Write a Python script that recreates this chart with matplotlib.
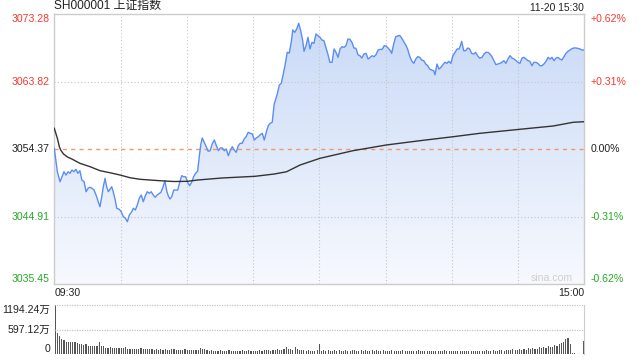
import numpy as np
import matplotlib
matplotlib.use('Agg')
import matplotlib.pyplot as plt
from matplotlib.colors import LinearSegmentedColormap
from matplotlib.transforms import blended_transform_factory

plt.rcParams['font.family'] = ['Liberation Sans', 'Noto Sans CJK SC']

title = 'SH000001 上证指数'
stamp = '11-20 15:30'
base = 3054.37
levels = [3073.28, 3063.82, 3054.37, 3044.91, 3035.45]
vol_levels = [1194.24, 597.12, 0]
vol_labels = ['1194.24万', '597.12万', '0']

# minutes after 09:30 (trading minutes, lunch break removed)
t_price = [0.0, 1.4, 2.6, 3.5, 4.4, 5.3, 6.3, 7.1, 8.0, 8.9, 9.8, 10.7, 11.6, 12.5, 13.5,
           14.4, 15.3, 16.2, 17.1, 18.0, 19.2, 19.9, 20.7, 21.5, 22.2, 23.0, 23.7, 24.5,
           25.2, 26.0, 26.7, 27.6, 28.3, 29.4, 30.3, 31.3, 32.2, 33.1, 34.0, 35.1, 35.8,
           36.7, 37.6, 38.5, 39.4, 40.3, 41.2, 42.1, 43.0, 43.9, 44.8, 45.7, 46.6, 48.3,
           49.2, 50.1, 50.9, 51.6, 52.4, 53.2, 54.1, 55.0, 55.9, 56.8, 57.7, 58.6, 59.5,
           60.4, 61.3, 62.2, 63.1, 64.0, 64.9, 65.8, 66.4, 67.0, 67.9, 68.8, 69.7, 70.6,
           71.5, 72.5, 73.4, 74.3, 75.2, 76.1, 77.0, 77.9, 78.8, 79.7, 80.6, 81.5, 82.4,
           83.3, 84.2, 85.1, 86.0, 86.9, 87.8, 88.8, 89.7, 90.6, 91.5, 92.4, 93.3, 94.2,
           95.1, 96.0, 96.9, 97.8, 98.7, 99.6, 101.0, 101.9, 102.8, 103.7, 104.6, 105.5,
           106.4, 107.3, 108.0, 108.9, 109.8, 110.7, 111.6, 112.5, 113.1, 114.0, 114.9,
           115.8, 116.7, 117.6, 118.5, 119.4, 120.3, 121.2, 122.1, 123.0, 123.9, 124.8,
           125.8, 126.7, 127.6, 128.5, 129.4, 130.3, 131.2, 132.1, 133.0, 133.9, 134.8,
           135.7, 136.6, 137.5, 138.4, 139.3, 140.2, 141.2, 142.1, 143.0, 143.9, 144.8,
           145.7, 146.6, 147.5, 148.5, 149.4, 150.3, 151.3, 152.2, 152.8, 153.7, 154.6,
           155.5, 156.4, 157.3, 158.2, 159.1, 160.0, 160.9, 161.8, 162.8, 163.7, 164.6,
           165.5, 166.4, 167.3, 168.2, 169.1, 170.0, 170.9, 171.8, 172.4, 173.3, 174.2,
           175.1, 176.0, 176.9, 177.8, 178.7, 179.6, 180.5, 181.5, 182.4, 183.3, 183.9,
           184.5, 185.4, 186.3, 187.2, 188.1, 189.0, 189.9, 190.8, 191.7, 192.6, 193.7,
           194.6, 195.5, 196.4, 197.3, 198.2, 199.1, 200.0, 200.9, 201.8, 202.7, 203.6,
           204.5, 205.4, 206.4, 207.3, 208.2, 209.1, 210.0, 210.9, 211.8, 212.7, 213.6,
           214.5, 215.4, 216.3, 217.2, 218.1, 219.0, 219.9, 220.8, 221.7, 222.7, 223.6,
           224.5, 225.4, 226.3, 227.2, 228.1, 229.0, 229.9, 230.8, 231.7, 232.6, 233.5,
           234.4, 235.3, 236.2, 237.1, 238.1, 239.0, 240.0]
price = [3054.50, 3051.22, 3049.82, 3050.52, 3051.22, 3050.76, 3051.22, 3051.00, 3051.46,
         3051.22, 3051.56, 3051.00, 3051.37, 3050.06, 3049.82, 3048.42, 3048.90, 3049.04,
         3048.90, 3048.66, 3047.72, 3047.02, 3046.32, 3047.72, 3049.12, 3050.30, 3049.12,
         3048.42, 3048.76, 3049.12, 3048.42, 3047.26, 3046.10, 3045.96, 3045.62, 3044.92,
         3044.70, 3044.22, 3045.16, 3045.62, 3046.10, 3045.86, 3046.56, 3047.50, 3047.96,
         3047.02, 3047.82, 3048.42, 3048.20, 3048.42, 3047.96, 3047.64, 3047.96, 3048.34,
         3049.04, 3049.96, 3048.56, 3047.86, 3047.40, 3047.72, 3048.66, 3048.66, 3048.66,
         3049.74, 3050.66, 3050.52, 3050.52, 3049.74, 3049.26, 3049.74, 3050.52, 3051.00,
         3051.28, 3053.70, 3055.11, 3055.95, 3055.34, 3054.73, 3054.08, 3054.17, 3055.11,
         3055.67, 3054.87, 3054.17, 3054.55, 3054.55, 3054.17, 3054.41, 3053.47, 3054.17,
         3054.73, 3054.26, 3053.94, 3054.87, 3055.20, 3055.20, 3055.81, 3056.13, 3056.74,
         3056.60, 3056.51, 3055.67, 3055.95, 3056.13, 3056.41, 3056.60, 3055.67, 3056.74,
         3057.67, 3058.01, 3058.15, 3060.71, 3062.11, 3063.37, 3063.61, 3064.91, 3066.31,
         3067.95, 3067.85, 3069.35, 3071.08, 3070.75, 3071.22, 3072.02, 3070.98, 3069.58,
         3068.09, 3068.88, 3070.05, 3068.42, 3069.35, 3069.21, 3070.52, 3070.28, 3070.05,
         3069.68, 3069.58, 3068.65, 3067.71, 3066.55, 3066.55, 3068.42, 3067.95, 3067.25,
         3068.42, 3068.74, 3068.65, 3068.88, 3069.82, 3069.77, 3069.35, 3068.56, 3068.51,
         3067.62, 3067.48, 3067.15, 3067.71, 3067.81, 3067.01, 3067.25, 3067.48, 3067.34,
         3067.62, 3068.27, 3068.37, 3068.37, 3068.88, 3068.84, 3068.51, 3068.18, 3067.81,
         3069.12, 3070.14, 3070.24, 3070.33, 3069.96, 3069.49, 3069.02, 3068.42, 3067.48,
         3066.78, 3066.41, 3067.01, 3067.34, 3067.25, 3066.87, 3066.78, 3066.31, 3066.08,
         3065.61, 3065.47, 3065.37, 3064.81, 3066.31, 3065.61, 3065.85, 3066.22, 3066.55,
         3066.41, 3066.69, 3066.41, 3067.48, 3067.95, 3068.42, 3068.42, 3068.88, 3069.49,
         3068.18, 3068.18, 3068.56, 3068.42, 3067.81, 3067.71, 3067.95, 3067.48, 3067.15,
         3067.25, 3067.71, 3067.95, 3067.95, 3067.71, 3067.34, 3066.78, 3066.22, 3066.31,
         3066.41, 3066.55, 3066.78, 3066.41, 3067.01, 3067.48, 3067.15, 3067.01, 3066.78,
         3066.55, 3066.41, 3067.15, 3067.25, 3067.01, 3066.78, 3066.69, 3066.08, 3066.55,
         3066.55, 3066.41, 3066.08, 3066.08, 3066.31, 3066.69, 3067.25, 3067.01, 3067.25,
         3066.78, 3067.15, 3067.25, 3067.01, 3066.87, 3067.34, 3067.81, 3068.09, 3068.27,
         3068.46, 3068.56, 3068.56, 3068.51, 3068.42, 3068.27, 3068.30]

# average price line
t_avg = [0.0, 1.4, 2.3, 2.9, 4.2, 6.0, 8.0, 11.6, 16.2, 20.7, 25.2, 29.8, 34.3, 38.9, 43.4,
         47.9, 54.2, 60.4, 64.9, 75.8, 90.9, 99.6, 105.2, 111.3, 120.3, 135.3, 150.4,
         165.6, 180.7, 192.6, 210.9, 226.0, 235.0, 240.0]
avg = [3057.31, 3055.90, 3054.73, 3054.26, 3053.70, 3053.28, 3053.00, 3052.40, 3051.93,
       3051.37, 3051.08, 3050.76, 3050.38, 3050.16, 3050.06, 3049.96, 3049.85, 3049.88,
       3050.06, 3050.34, 3050.58, 3050.90, 3051.22, 3052.16, 3053.10, 3054.17, 3054.97,
       3055.57, 3056.13, 3056.60, 3057.17, 3057.63, 3058.15, 3058.23]

# volume per minute (万手)
volume = [1194.24, 517, 438, 374, 342, 295, 287, 287, 302, 302,
          279, 255, 239, 215, 239, 207, 207, 207, 207, 207,
          302, 207, 207, 159, 143, 183, 159, 159, 159, 159,
          159, 159, 183, 135, 135, 135, 135, 135, 119, 143,
          119, 119, 119, 119, 119, 103, 119, 103, 119, 96,
          119, 111, 103, 119, 119, 103, 96, 111, 103, 119,
          111, 96, 103, 111, 103, 96, 161, 135, 119, 103,
          89, 96, 81, 89, 81, 96, 81, 89, 81, 96,
          89, 81, 89, 73, 81, 96, 89, 81, 96, 81,
          73, 89, 81, 96, 89, 103, 96, 111, 89, 103,
          111, 119, 96, 111, 119, 186, 119, 135, 111, 170,
          119, 103, 111, 96, 89, 96, 89, 81, 89, 96,
          250, 89, 96, 81, 103, 89, 81, 96, 89, 103,
          81, 89, 96, 81, 89, 103, 96, 81, 89, 96,
          81, 96, 89, 81, 103, 89, 96, 81, 89, 96,
          89, 81, 89, 96, 81, 73, 89, 81, 96, 89,
          81, 73, 89, 81, 81, 96, 73, 89, 81, 73,
          89, 81, 73, 89, 81, 81, 73, 96, 81, 73,
          89, 81, 73, 81, 89, 73, 81, 89, 81, 73,
          89, 81, 89, 73, 81, 89, 96, 81, 89, 96,
          81, 89, 103, 96, 89, 111, 96, 103, 119, 96,
          111, 119, 103, 135, 111, 143, 119, 151, 127, 135,
          186, 151, 167, 143, 210, 167, 183, 226, 199, 246,
          266, 307, 363, 403, 250, 24, 20, 0, 0, 0, 330]

red = '#f23a2f'
green = '#25a925'
dark = '#222222'
grid_c = '#c6c6c6'

fig = plt.figure(figsize=(6.4, 3.6), dpi=100)
ax = fig.add_axes([0.0848, 0.2103, 0.8281, 0.75])
axv = fig.add_axes([0.0848, 0.0158, 0.8281, 0.137])

lo, hi = levels[-1], levels[0]
ax.set_xlim(0, 240)
ax.set_ylim(lo, hi)
ax.set_xticks([])
ax.set_yticks([])
for s in ax.spines.values():
    s.set_color('#cccccc')
    s.set_linewidth(1)

# gradient fill under the price line
cmap = LinearSegmentedColormap.from_list('fill', ['#f7f9fe', '#c8d9f7'])
grad = np.linspace(0, 1, 256).reshape(-1, 1)
im = ax.imshow(grad, extent=[0, 240, lo, hi], origin='lower', aspect='auto',
               cmap=cmap, zorder=1)
poly = ax.fill_between(t_price, price, lo, facecolor='none', lw=0)
im.set_clip_path(poly.get_paths()[0], transform=ax.transData)

for m in range(30, 240, 30):
    ax.axvline(m, color=grid_c, lw=0.8, ls=(0, (1, 2)), zorder=2)
ax.axhline(levels[1], color=grid_c, lw=0.8, ls=(0, (1, 2)), zorder=2)
ax.axhline(levels[3], color=grid_c, lw=0.8, ls=(0, (1, 2)), zorder=2)
ax.axhline(base, color='#ee9a6c', lw=1.0, ls=(0, (3, 3)), zorder=2)

ax.plot(t_price, price, color='#5b8ef2', lw=1.0, zorder=3)
ax.plot(t_avg, avg, color='#333333', lw=1.0, zorder=4)

# axis labels
tr = blended_transform_factory(ax.transAxes, ax.transData)
for i, v in enumerate(levels):
    c = red if v > base else (green if v < base else dark)
    va = 'top' if i == 0 else ('bottom' if i == len(levels) - 1 else 'center')
    ax.text(-0.008, v, f'{v:.2f}', transform=tr, ha='right', va=va, color=c, fontsize=7.6)
    pct = (v - base) / base * 100
    s = '0.00%' if abs(pct) < 0.005 else f'{pct:+.2f}%'
    ax.text(1.012, v, s, transform=tr, ha='left', va=va, color=c, fontsize=7.6)

ax.text(0.0, 1.008, title, transform=ax.transAxes, ha='left', va='bottom',
        fontsize=8.6, color=dark)
ax.text(1.0, 1.006, stamp, transform=ax.transAxes, ha='right', va='bottom',
        fontsize=7.4, color=dark)
ax.text(0.0, -0.015, '09:30', transform=ax.transAxes, ha='left', va='top',
        fontsize=7.6, color=dark)
ax.text(1.0, -0.015, '15:00', transform=ax.transAxes, ha='right', va='top',
        fontsize=7.6, color=dark)
ax.text(0.979, 0.006, 'sina.com', transform=ax.transAxes, ha='right', va='bottom',
        fontsize=7.6, color='#cfcfcf', zorder=5)

# volume panel
axv.set_xlim(-0.4, 240.4)
axv.set_ylim(0, vol_levels[0])
axv.set_xticks([])
axv.set_yticks([])
for k in ['left', 'bottom', 'top']:
    axv.spines[k].set_visible(False)
axv.spines['right'].set_color('#cccccc')
axv.axhline(vol_levels[0], color=grid_c, lw=0.9, ls=(0, (1, 1)), clip_on=False)
axv.axhline(vol_levels[1], color=grid_c, lw=0.9, ls=(0, (1, 1)))
axv.bar(np.arange(len(volume)), volume, width=0.5, color='#555555', lw=0)

trv = blended_transform_factory(axv.transAxes, axv.transData)
for i, (v, s) in enumerate(zip(vol_levels, vol_labels)):
    va = 'top' if i == 0 else ('bottom' if i == len(vol_levels) - 1 else 'center')
    axv.text(-0.008, v, s, transform=trv, ha='right', va=va, color=dark, fontsize=7.6)

plt.savefig('out.png', dpi=100)
